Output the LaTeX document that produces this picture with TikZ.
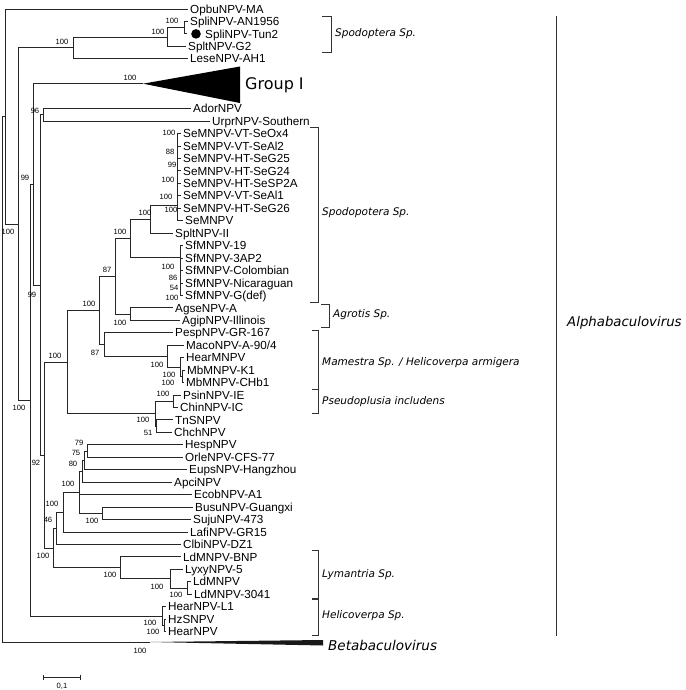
\documentclass[tikz,border=0pt]{standalone}
\usepackage{fontspec}
\setmainfont{Liberation Sans}
\newfontfamily\cladefont{DejaVu Sans}
\usepackage{tikz}
\usetikzlibrary{arrows.meta}

\begin{document}
\begin{tikzpicture}[x=1pt,y=-1pt,
    branch/.style={draw=black!85,line width=0.8pt},
    leaf/.style={anchor=west,inner xsep=2pt,inner ysep=0pt,text height=8.4pt,text depth=0pt,font=\fontsize{11.7}{12}\selectfont},
    boot/.style={inner sep=0pt,font=\fontsize{7.6}{8}\selectfont},
    clade/.style={anchor=west,inner sep=0pt,font=\cladefont\itshape\fontsize{10.5}{12}\selectfont},
    cladebar/.style={draw=black!80,line width=0.8pt}]
    \useasboundingbox (0,0) rectangle (685,690);

    % Taxa, row k at y = 108.6 + 12.45k
    \foreach \nm/\x/\k/\t in {opbu/188/-8/OpbuNPV-MA, spli/188/-7/SpliNPV-AN1956, gtwo/186/-5/SpltNPV-G2,
        lese/188/-4/LeseNPV-AH1, ador/191/0/AdorNPV, urpr/210/1/UrprNPV-Southern,
        se1/181/2/SeMNPV-VT-SeOx4, se2/181/3/SeMNPV-VT-SeAl2, se3/181/4/SeMNPV-HT-SeG25,
        se4/181/5/SeMNPV-HT-SeG24, se5/181/6/SeMNPV-HT-SeSP2A, se6/181/7/SeMNPV-VT-SeAl1,
        se7/181/8/SeMNPV-HT-SeG26, se8/183/9/SeMNPV, spII/173/10/SpltNPV-II,
        sf1/183/11/SfMNPV-19, sf2/183/12/SfMNPV-3AP2, sf3/183/13/SfMNPV-Colombian,
        sf4/183/14/SfMNPV-Nicaraguan, sf5/183/15/SfMNPV-G(def), agse/173/16/AgseNPV-A,
        agip/180/17/AgipNPV-Illinois, pesp/173/18/PespNPV-GR-167, maco/184/19/{MacoNPV-A-90/4},
        hearm/184/20/HearMNPV, mbk/185/21/MbMNPV-K1, mbc/184/22/MbMNPV-CHb1,
        psin/181/23/PsinNPV-IE, chin/178/24/ChinNPV-IC, tn/173/25/TnSNPV, chch/172/26/ChchNPV,
        hesp/183/27/HespNPV, orle/183/28/OrleNPV-CFS-77, eups/187/29/EupsNPV-Hangzhou,
        apci/172/30/ApciNPV, ecob/192/31/EcobNPV-A1, busu/193/32/BusuNPV-Guangxi,
        suju/191/33/SujuNPV-473, lafi/188/34/LafiNPV-GR15, clbi/181/35/ClbiNPV-DZ1,
        ldbnp/181/36/LdMNPV-BNP, lyxy/183/37/LyxyNPV-5, ldm/191/38/LdMNPV,
        ldtf/192/39/LdMNPV-3041, hearl/166/40/HearNPV-L1, hz/166/41/HzSNPV, hear/166/42/HearNPV}
        \node[leaf] (\nm) at (\x,{108.6+12.45*(\k)}) {\t};

    % Tun2 isolate, marked
    \node[circle,fill=black,inner sep=0pt,minimum size=9.6pt] (tundot) at (196,33.9) {};
    \node[leaf] (tun) at (203,33.9) {SpliNPV-Tun2};
    \coordinate (tunend) at (187,33.9);

    % Internal nodes
    \coordinate (root) at (2,379.2);
    \coordinate (n1) at (5.5,116.4);
    \coordinate (n2) at (18,224.1);
    \coordinate (s1) at (73,47.9);
    \coordinate (s2) at (167,37.0);
    \coordinate (s3) at (184,27.7);
    \coordinate (n3) at (30,400.2);
    \coordinate (n4) at (33,184.3);
    \coordinate (grp) at (143,83.7);
    \coordinate (n5) at (40,284.9);
    \coordinate (n6) at (43,114.8);
    \coordinate (n7) at (44,455.0);
    \coordinate (m1) at (67,362.0);
    \coordinate (m2) at (99,310.3);
    \coordinate (m8) at (115,276.1);
    \coordinate (m9) at (130,238.1);
    \coordinate (m10) at (150,219.05);
    \coordinate (se) at (177,205);
    \coordinate (sf) at (180,257.2);
    \coordinate (agr) at (130,314.0);
    \coordinate (m4) at (104,344.4);
    \coordinate (m5) at (167,356.1);
    \coordinate (m6) at (180,367.0);
    \coordinate (m7) at (182,376.3);
    \coordinate (m3) at (155,413.6);
    \coordinate (ps) at (173,401.2);
    \coordinate (m11) at (156,426.1);
    \coordinate (l1) at (53,548.0);
    \coordinate (h7) at (56,528.2);
    \coordinate (h6) at (63,512.1);
    \coordinate (h4) at (79,492.2);
    \coordinate (h3) at (82,471.2);
    \coordinate (h2) at (84.5,460.3);
    \coordinate (h1) at (87,451.0);
    \coordinate (bs) at (102,513.2);
    \coordinate (lym) at (120,567.7);
    \coordinate (ly2) at (170,578.6);
    \coordinate (ly3) at (187,587.9);
    \coordinate (he) at (162,616.0);
    \coordinate (he2) at (164,625.3);
    \coordinate (beta) at (150,642);

    % Branches
    \foreach \p/\c in {root/n1, root/beta, n1/opbu, n1/n2, n2/s1, n2/n3, s1/s2, s1/lese,
        s2/s3, s2/gtwo, s3/spli, s3/tunend, n3/n4, n3/he, n4/grp, n4/n5, n5/n6, n5/n7,
        n6/ador, n6/urpr, n7/m1, n7/l1, m1/m2, m1/m3, m2/m8, m2/m4, m8/m9, m8/agr,
        m9/m10, m9/sf, m10/se, m10/spII, agr/agse, agr/agip, m4/pesp, m4/m5, m5/maco,
        m5/m6, m6/hearm, m6/m7, m7/mbk, m7/mbc, m3/ps, m3/m11, ps/psin, ps/chin,
        m11/tn, m11/chch, l1/h7, l1/lym, h7/h6, h7/clbi, h6/h4, h6/lafi, h4/h3, h4/ecob,
        h4/bs, h3/h2, h3/apci, h2/h1, h2/eups, h1/hesp, h1/orle, bs/busu, bs/suju,
        lym/ldbnp, lym/ly2, ly2/lyxy, ly2/ly3, ly3/ldm, ly3/ldtf, he/hearl, he/he2,
        he2/hz, he2/hear, se/se1, se/se2, se/se3, se/se4, se/se5, se/se6, se/se7, se/se8,
        sf/sf1, sf/sf2, sf/sf3, sf/sf4, sf/sf5}
        \draw[branch] (\p) |- (\c);

    % Collapsed clades
    \fill[black] (grp) -- (240,66.5) -- (240,103) -- cycle;
    \node[clade,font=\cladefont\fontsize{16}{18}\selectfont] (grptxt) at (245,85) {Group I};
    \fill[black!90] (beta) -- (323,640) -- (323,645.5) -- cycle;
    \node[clade,font=\cladefont\itshape\fontsize{13.5}{15}\selectfont] (betatxt) at (328,645) {Betabaculovirus};

    % Bootstrap values
    \foreach \x/\y/\v [count=\i] in {172/21/100, 158/32/100, 62/42/100, 130/78/100, 35/111/96,
        25/178/99, 8/232/100, 32/295/99, 19/408/100, 36/463/92, 169/133/100, 170/152/88,
        172/165/99, 168/180/100, 166/197/100, 171/210/100, 145/213/100, 120/232/100,
        107/270/87, 168/267/100, 173/278/86, 174/288/54, 172/298/100, 89/304/100,
        120/323/100, 95/353/87, 55/356/100, 157/365/100, 169/375/100, 168/383/100,
        163/394/100, 143/420/100, 148/433/51, 79/443/79, 76/453/75, 73/464/80,
        68/484/100, 52/504/100, 48/520/46, 92/521/100, 43/556/100, 110/575/100,
        157/587/100, 176/595/100, 150/623/100, 153/632/100, 140/651/100}
        \node[boot] (bv\i) at (\x,\y) {\v};

    % Host brackets
    \foreach \xa/\xb/\ya/\yb/\ty/\t [count=\i] in {322/331/16/52/34/Spodoptera Sp.,
        310/318/127/302/213/Spodopotera Sp., 321/329/304/327/315/Agrotis Sp.,
        312/318/330/389/363/{Mamestra Sp. / Helicoverpa armigera},
        312/318/389/413/402/Pseudoplusia includens, 312/318/550/598/575/Lymantria Sp.,
        312/318/599/635/616/Helicoverpa Sp.} {
        \draw[cladebar] (\xa,\ya) -| (\xb,\yb) -- (\xa,\yb);
        \node[clade] (host\i) at (\xb+4,\ty) {\t};
    }

    % Genus bar
    \coordinate (atop) at (556,16);
    \coordinate (abot) at (556,636);
    \draw[cladebar] (atop) -- (abot);
    \node[clade,font=\cladefont\itshape\fontsize{13.3}{15}\selectfont] (alpha) at (567,323) {Alphabaculovirus};

    % Scale
    \coordinate (sbl) at (43,677);
    \coordinate (sbr) at (81,677);
    \draw[branch,{Bar[width=5pt]}-{Bar[width=5pt]}] (sbl) -- (sbr);
    \node[boot] (sbtxt) at (62,686) {0,1};
\end{tikzpicture}
\end{document}
